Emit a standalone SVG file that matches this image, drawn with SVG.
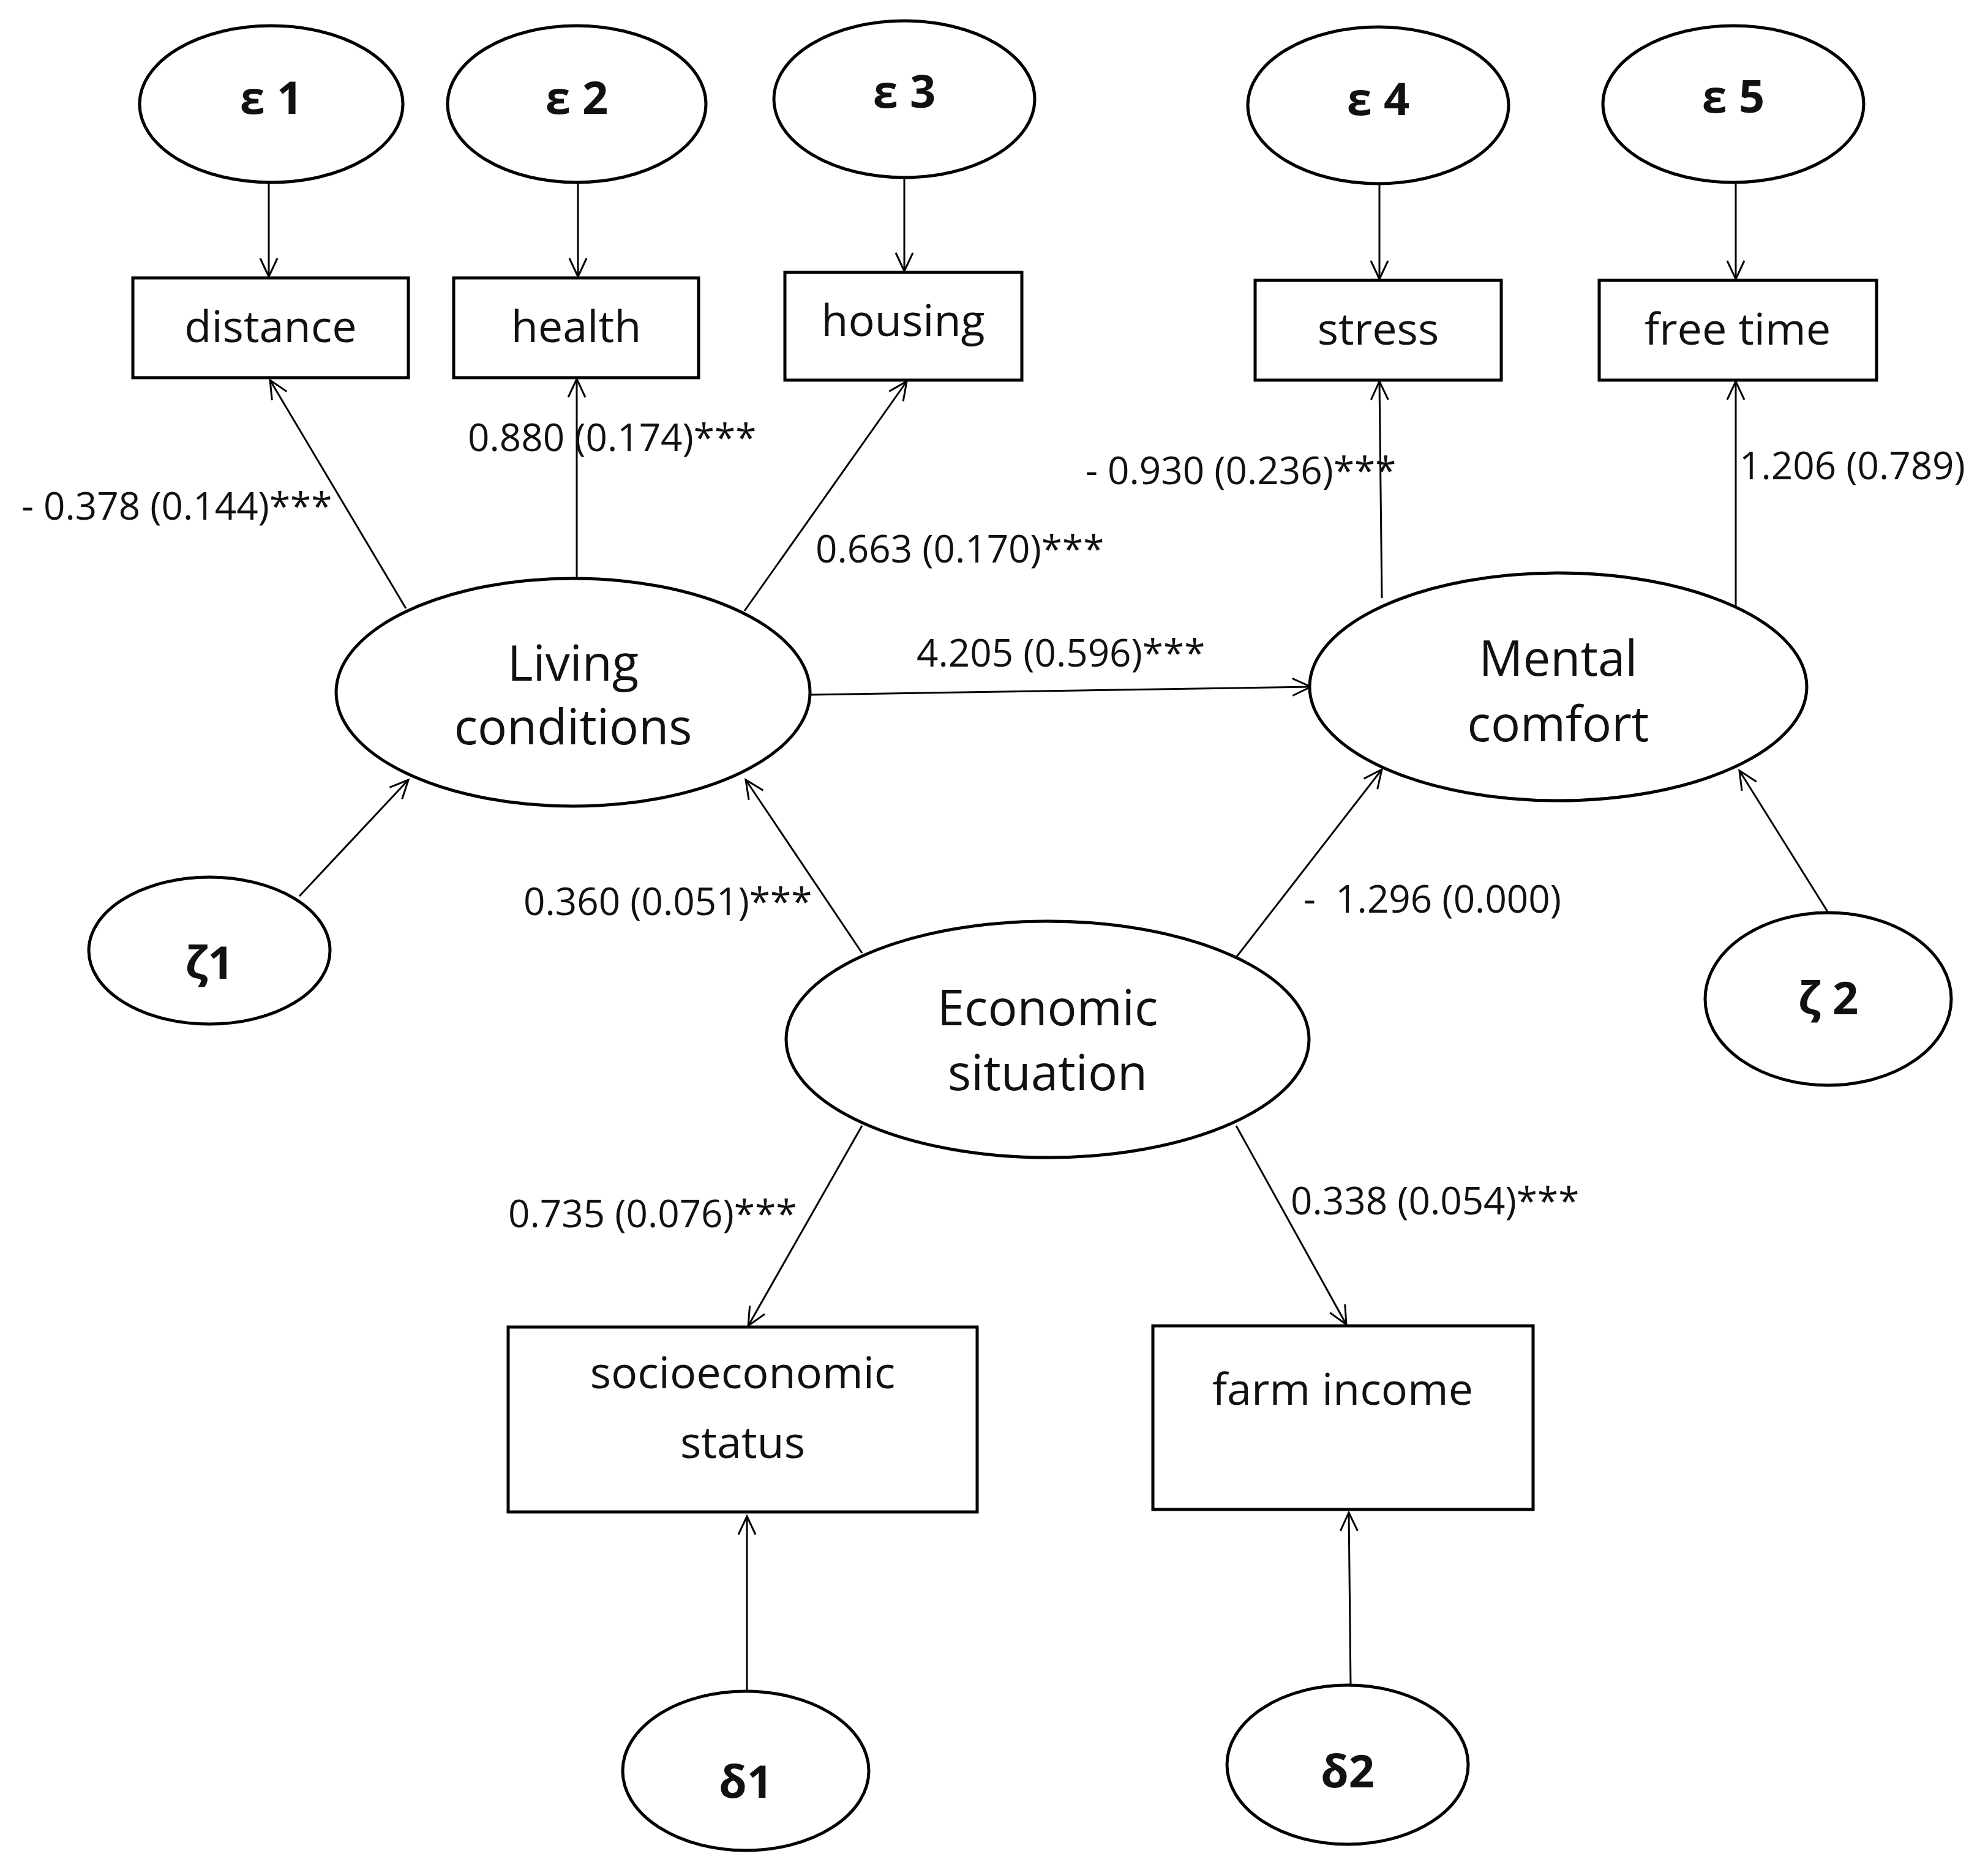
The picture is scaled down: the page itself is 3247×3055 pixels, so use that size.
<svg xmlns="http://www.w3.org/2000/svg" width="3247" height="3055" viewBox="0 0 3247 3055">
<style>
.n{fill:#fff;stroke:#000;stroke-width:5}
.c line{stroke:#000;stroke-width:3;marker-end:url(#a)}
text{font-family:"Open Sans","Liberation Sans",sans-serif;fill:#111}
.t{font-size:72px;text-anchor:middle}
.k{font-size:80px;text-anchor:middle}
.b{font-size:74px;font-weight:bold;text-anchor:middle}
.l{font-size:62px}
</style>
<defs><marker id="a" markerWidth="40" markerHeight="40" refX="32" refY="16" orient="auto" markerUnits="userSpaceOnUse"><path d="M2,2 L32,16 L2,30" fill="none" stroke="#000" stroke-width="3"/></marker></defs>
<rect width="3247" height="3055" fill="#fff"/>
<g class="c">
<line x1="439" y1="298" x2="439" y2="452"/>
<line x1="944" y1="298" x2="944" y2="452"/>
<line x1="1477" y1="290" x2="1477" y2="443"/>
<line x1="2253" y1="300" x2="2253" y2="456"/>
<line x1="2835" y1="298" x2="2835" y2="456"/>
<line x1="663" y1="994" x2="441" y2="621"/>
<line x1="942" y1="944" x2="942" y2="619"/>
<line x1="1216" y1="998" x2="1481" y2="623"/>
<line x1="2257" y1="977" x2="2253" y2="623"/>
<line x1="2835" y1="990" x2="2835" y2="623"/>
<line x1="1325" y1="1135" x2="2141" y2="1122"/>
<line x1="489" y1="1464" x2="667" y2="1274"/>
<line x1="2986" y1="1491" x2="2841" y2="1259"/>
<line x1="1408" y1="1557" x2="1218" y2="1274"/>
<line x1="2019" y1="1564" x2="2257" y2="1257"/>
<line x1="1408" y1="1839" x2="1222" y2="2166"/>
<line x1="2019" y1="1839" x2="2199" y2="2164"/>
<line x1="1220" y1="2767" x2="1220" y2="2477"/>
<line x1="2206" y1="2754" x2="2203" y2="2471"/>
</g>
<g id="e1"><ellipse class="n" cx="443" cy="170" rx="215" ry="128"/><text class="b" x="443" y="186">ε 1</text></g>
<g id="e2"><ellipse class="n" cx="942" cy="170" rx="211" ry="128"/><text class="b" x="942" y="186">ε 2</text></g>
<g id="e3"><ellipse class="n" cx="1477" cy="162" rx="213" ry="128"/><text class="b" x="1477" y="176">ε 3</text></g>
<g id="e4"><ellipse class="n" cx="2251" cy="172" rx="213" ry="128"/><text class="b" x="2251" y="188">ε 4</text></g>
<g id="e5"><ellipse class="n" cx="2831" cy="170" rx="213" ry="128"/><text class="b" x="2831" y="184">ε 5</text></g>
<g id="distance"><rect class="n" x="217" y="454" width="450" height="163"/><text class="t" x="442" y="559">distance</text></g>
<g id="health"><rect class="n" x="741" y="454" width="400" height="163"/><text class="t" x="941" y="559">health</text></g>
<g id="housing"><rect class="n" x="1282" y="445" width="387" height="176"/><text class="t" x="1475" y="549">housing</text></g>
<g id="stress"><rect class="n" x="2050" y="458" width="402" height="163"/><text class="t" x="2251" y="563">stress</text></g>
<g id="freetime"><rect class="n" x="2612" y="458" width="453" height="163"/><text class="t" x="2838" y="563">free time</text></g>
<g id="living"><ellipse class="n" cx="936" cy="1131" rx="387" ry="186"/><text class="k" x="936" y="1112">Living</text><text class="k" x="936" y="1216">conditions</text></g>
<g id="mental"><ellipse class="n" cx="2545" cy="1122" rx="406" ry="186"/><text class="k" x="2545" y="1104">Mental</text><text class="k" x="2545" y="1211">comfort</text></g>
<g id="economic"><ellipse class="n" cx="1711" cy="1698" rx="427" ry="193"/><text class="k" x="1711" y="1675">Economic</text><text class="k" x="1711" y="1781">situation</text></g>
<g id="z1"><ellipse class="n" cx="342" cy="1553" rx="197" ry="120"/><text class="b" x="342" y="1599">ζ1</text></g>
<g id="z2"><ellipse class="n" cx="2986" cy="1632" rx="201" ry="141"/><text class="b" x="2986" y="1657">ζ 2</text></g>
<g id="socio"><rect class="n" x="830" y="2168" width="766" height="302"/><text class="t" x="1213" y="2268" font-size="56">socioeconomic</text><text class="t" x="1213" y="2382" font-size="68">status</text></g>
<g id="farm"><rect class="n" x="1883" y="2166" width="621" height="300"/><text class="t" x="2193" y="2295">farm income</text></g>
<g id="d1"><ellipse class="n" cx="1218" cy="2893" rx="201" ry="130"/><text class="b" x="1218" y="2937">δ1</text></g>
<g id="d2"><ellipse class="n" cx="2201" cy="2883" rx="197" ry="130"/><text class="b" x="2201" y="2920">δ2</text></g>
<g id="labels" class="l">
<text x="35" y="849">- 0.378 (0.144)***</text>
<text x="764" y="737">0.880 (0.174)***</text>
<text x="1332" y="919">0.663 (0.170)***</text>
<text x="1773" y="791">- 0.930 (0.236)***</text>
<text x="2841" y="783">1.206 (0.789)</text>
<text x="1497" y="1089">4.205 (0.596)***</text>
<text x="855" y="1495">0.360 (0.051)***</text>
<text x="2129" y="1491" xml:space="preserve">-  1.296 (0.000)</text>
<text x="830" y="2005">0.735 (0.076)***</text>
<text x="2108" y="1984">0.338 (0.054)***</text>
</g>
</svg>
